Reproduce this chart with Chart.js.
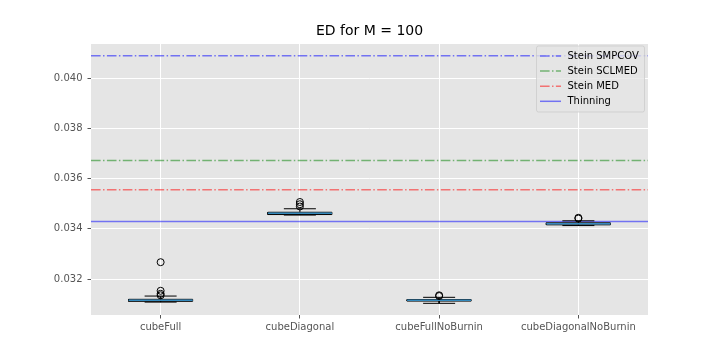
<!DOCTYPE html>
<html>
<head>
<meta charset="utf-8">
<script src="https://cdn.jsdelivr.net/npm/chart.js@4.4.0/dist/chart.umd.min.js"></script>
<style>
html,body{margin:0;padding:0;background:#fff;}
#wrap{width:720px;height:360px;}
</style>
</head>
<body>
<div id="wrap"><canvas id="c" width="720" height="360"></canvas></div>
<script>
// ---- data ----
const categories = ['cubeFull', 'cubeDiagonal', 'cubeFullNoBurnin', 'cubeDiagonalNoBurnin'];
const whiskerLow = [0.03108, 0.03455, 0.03103, 0.03413];
const q1 = [0.03111, 0.03457, 0.03112, 0.03416];
const median = [0.03115, 0.03462, 0.03115, 0.03420];
const q3 = [0.03119, 0.03466, 0.03118, 0.03424];
const whiskerHigh = [0.03132, 0.03480, 0.03127, 0.03432];
const outliers = [
  [0.03267, 0.03153, 0.03141, 0.03135],
  [0.03507, 0.03498, 0.03489],
  [0.03132, 0.03135],
  [0.03444, 0.03441]
];
const refNames = ['Stein SMPCOV', 'Stein SCLMED', 'Stein MED', 'Thinning'];
const refValues = [0.04090, 0.03672, 0.03556, 0.03429];
const yTicks = [0.032, 0.034, 0.036, 0.038, 0.040];
const yMin = 0.030565, yMax = 0.041368;

// ---- styles ----
const refColors = ['rgba(0,0,255,0.5)', 'rgba(0,128,0,0.5)', 'rgba(255,0,0,0.5)', 'rgba(0,0,255,0.5)'];
const dashDot = [9.6, 2.4, 1.5, 2.4];
const refDash = [dashDot, dashDot, dashDot, []];
const BOX_HALF = 0.23, CAP_HALF = 0.115;

const datasets = [];
// reference lines
refValues.forEach((v, i) => {
  datasets.push({
    type: 'line', label: refNames[i],
    data: [{x: 0.5, y: v}, {x: 4.5, y: v}],
    borderColor: refColors[i], borderWidth: 1.5, borderDash: refDash[i],
    pointRadius: 0, order: 5, clip: false
  });
});
// boxes, whiskers, caps
const boxPts = [], medPts = [];
categories.forEach((c, i) => {
  const x = i + 1;
  boxPts.push({x: x - BOX_HALF, y: q1[i]}, {x: x + BOX_HALF, y: q1[i]}, {x: x + BOX_HALF, y: q3[i]},
              {x: x - BOX_HALF, y: q3[i]}, {x: x - BOX_HALF, y: q1[i]}, {x: x, y: null});
  boxPts.push({x: x, y: q3[i]}, {x: x, y: whiskerHigh[i]}, {x: x, y: null});
  boxPts.push({x: x, y: q1[i]}, {x: x, y: whiskerLow[i]}, {x: x, y: null});
  boxPts.push({x: x - CAP_HALF, y: whiskerHigh[i]}, {x: x + CAP_HALF, y: whiskerHigh[i]}, {x: x, y: null});
  boxPts.push({x: x - CAP_HALF, y: whiskerLow[i]}, {x: x + CAP_HALF, y: whiskerLow[i]}, {x: x, y: null});
  medPts.push({x: x - BOX_HALF, y: median[i]}, {x: x + BOX_HALF, y: median[i]}, {x: x, y: null});
});
datasets.push({type: 'line', label: 'box', data: boxPts, borderColor: '#000', borderWidth: 1,
  pointRadius: 0, spanGaps: false, order: 3});
datasets.push({type: 'line', label: 'median', data: medPts, borderColor: '#348ABD', borderWidth: 1.5,
  pointRadius: 0, spanGaps: false, order: 2});
const outPts = [];
outliers.forEach((arr, i) => arr.forEach(v => outPts.push({x: i + 1, y: v})));
datasets.push({type: 'scatter', label: 'fliers', data: outPts, showLine: false,
  pointRadius: 3.5, pointBorderColor: '#000', pointBackgroundColor: 'rgba(0,0,0,0)',
  pointBorderWidth: 1, order: 1});

const bgPlugin = {
  id: 'bg',
  beforeDraw(chart) {
    const {ctx, chartArea: a} = chart;
    ctx.save();
    ctx.fillStyle = '#E5E5E5';
    ctx.fillRect(a.left, a.top, a.right - a.left, a.bottom - a.top);
    ctx.restore();
  }
};
const legendPlugin = {
  id: 'innerLegend',
  afterDraw(chart) {
    const {ctx, chartArea: a} = chart;
    const w = 108, h = 66;
    const left = a.right - 4 - w, top = a.top + 1.5;
    ctx.save();
    ctx.fillStyle = 'rgba(229,229,229,0.8)';
    ctx.strokeStyle = 'rgba(204,204,204,0.8)';
    ctx.lineWidth = 1;
    ctx.beginPath();
    if (ctx.roundRect) ctx.roundRect(left + 0.5, top + 0.5, w, h, 2); else ctx.rect(left + 0.5, top + 0.5, w, h);
    ctx.fill(); ctx.stroke();
    ctx.font = '10px "DejaVu Sans"';
    ctx.textBaseline = 'middle';
    ctx.fillStyle = '#000';
    refNames.forEach((n, i) => {
      const y = top + 10.5 + i * 15.1;
      ctx.strokeStyle = refColors[i];
      ctx.lineWidth = 1.5;
      ctx.setLineDash(refDash[i]);
      ctx.beginPath(); ctx.moveTo(left + 4, y); ctx.lineTo(left + 25, y); ctx.stroke();
      ctx.setLineDash([]);
      ctx.fillText(n, left + 31.5, y);
    });
    ctx.restore();
  }
};

const tickFont = {family: 'DejaVu Sans', size: 10};
new Chart(document.getElementById('c'), {
  data: {datasets},
  options: {
    responsive: false, animation: false, devicePixelRatio: 1,
    layout: {padding: {left: 0, right: 72, top: 0, bottom: 0}},
    plugins: {
      legend: {display: false}, tooltip: {enabled: false},
      title: {display: true, text: 'ED for M = 100', fullSize: false,
        font: {family: 'DejaVu Sans', size: 14, weight: 'normal'}, color: '#000',
        padding: {top: 23, bottom: 4.2}}
    },
    scales: {
      x: {
        type: 'linear', min: 0.5, max: 4.5,
        afterBuildTicks(s) { s.ticks = categories.map((c, i) => ({value: i + 1})); },
        afterFit(s) { s.height = 45; },
        ticks: {font: tickFont, color: '#555555', padding: 3, maxRotation: 0, autoSkip: false,
          callback: (v) => categories[Math.round(v) - 1]},
        grid: {color: '#FFFFFF', lineWidth: 1, drawTicks: true, tickLength: 3.5, tickColor: '#555555', tickWidth: 1},
        border: {display: false}
      },
      y: {
        type: 'linear', min: yMin, max: yMax,
        afterBuildTicks(s) { s.ticks = yTicks.map(v => ({value: v})); },
        afterFit(s) { s.width = 91; },
        ticks: {font: tickFont, color: '#555555', padding: 5, callback: (v) => v.toFixed(3)},
        grid: {color: '#FFFFFF', lineWidth: 1, drawTicks: true, tickLength: 3.5, tickColor: '#555555', tickWidth: 1},
        border: {display: false}
      }
    }
  },
  plugins: [bgPlugin, legendPlugin]
});
</script>
</body>
</html>
